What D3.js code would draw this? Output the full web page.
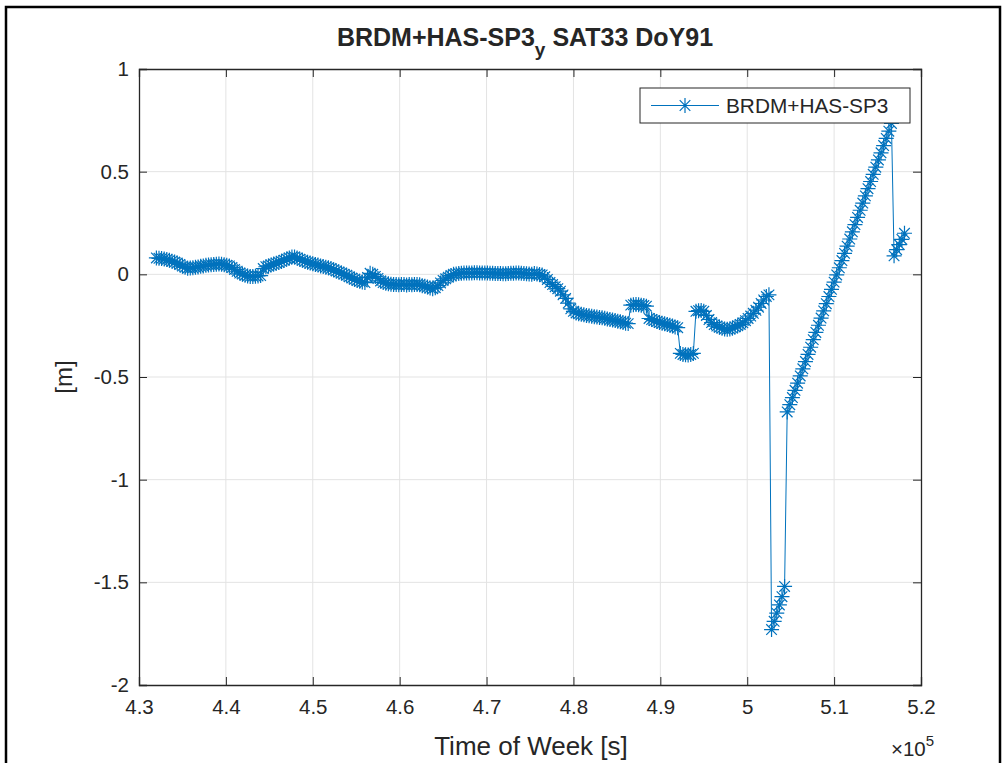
<!DOCTYPE html>
<html lang="en">
<head>
<meta charset="UTF-8">
<title>BRDM+HAS-SP3 SAT33 DoY91</title>
<script src="https://d3js.org/d3.v7.min.js"></script>
<style>
  body { margin: 0; background: #fff; }
  text { font-family: "Liberation Sans", Arial, Helvetica, sans-serif; fill: #262626; }
</style>
</head>
<body>
<div id="chart"></div>
<script>
// time of week [s], one epoch every 300 s
const tow = [
  432000, 432300, 432600, 432900, 433200, 433500, 433800, 434100, 434400, 434700,
  435000, 435300, 435600, 435900, 436200, 436500, 436800, 437100, 437400, 437700,
  438000, 438300, 438600, 438900, 439200, 439500, 439800, 440100, 440400, 440700,
  441000, 441300, 441600, 441900, 442200, 442500, 442800, 443100, 443400, 443700,
  444000, 444300, 444600, 444900, 445200, 445500, 445800, 446100, 446400, 446700,
  447000, 447300, 447600, 447900, 448200, 448500, 448800, 449100, 449400, 449700,
  450000, 450300, 450600, 450900, 451200, 451500, 451800, 452100, 452400, 452700,
  453000, 453300, 453600, 453900, 454200, 454500, 454800, 455100, 455400, 455700,
  456000, 456300, 456600, 456900, 457200, 457500, 457800, 458100, 458400, 458700,
  459000, 459300, 459600, 459900, 460200, 460500, 460800, 461100, 461400, 461700,
  462000, 462300, 462600, 462900, 463200, 463500, 463800, 464100, 464400, 464700,
  465000, 465300, 465600, 465900, 466200, 466500, 466800, 467100, 467400, 467700,
  468000, 468300, 468600, 468900, 469200, 469500, 469800, 470100, 470400, 470700,
  471000, 471300, 471600, 471900, 472200, 472500, 472800, 473100, 473400, 473700,
  474000, 474300, 474600, 474900, 475200, 475500, 475800, 476100, 476400, 476700,
  477000, 477300, 477600, 477900, 478200, 478500, 478800, 479100, 479400, 479700,
  480000, 480300, 480600, 480900, 481200, 481500, 481800, 482100, 482400, 482700,
  483000, 483300, 483600, 483900, 484200, 484500, 484800, 485100, 485400, 485700,
  486000, 486300, 486600, 486900, 487200, 487500, 487800, 488100, 488400, 488700,
  489000, 489300, 489600, 489900, 490200, 490500, 490800, 491100, 491400, 491700,
  492000, 492300, 492600, 492900, 493200, 493500, 493800, 494100, 494400, 494700,
  495000, 495300, 495600, 495900, 496200, 496500, 496800, 497100, 497400, 497700,
  498000, 498300, 498600, 498900, 499200, 499500, 499800, 500100, 500400, 500700,
  501000, 501300, 501600, 501900, 502200, 502500, 502800, 503100, 503400, 503700,
  504000, 504300, 504600, 504900, 505200, 505500, 505800, 506100, 506400, 506700,
  507000, 507300, 507600, 507900, 508200, 508500, 508800, 509100, 509400, 509700,
  510000, 510300, 510600, 510900, 511200, 511500, 511800, 512100, 512400, 512700,
  513000, 513300, 513600, 513900, 514200, 514500, 514800, 515100, 515400, 515700,
  516000, 516300, 516600, 516900, 517200, 517500, 517800, 518100
];

// BRDM+HAS minus SP3, y component [m]
const dy = [
  0.080, 0.078, 0.077, 0.075, 0.072, 0.068, 0.064, 0.060, 0.055, 0.048,
  0.040, 0.034, 0.030, 0.031, 0.032, 0.034, 0.036, 0.039, 0.041, 0.044,
  0.046, 0.047, 0.048, 0.049, 0.050, 0.049, 0.047, 0.044, 0.041, 0.033,
  0.024, 0.015, 0.006, 0.001, -0.004, -0.008, -0.010, -0.010, -0.009, -0.008,
  -0.006, 0.028, 0.037, 0.041, 0.045, 0.050, 0.054, 0.058, 0.063, 0.069,
  0.075, 0.080, 0.084, 0.085, 0.080, 0.074, 0.068, 0.063, 0.059, 0.055,
  0.052, 0.048, 0.045, 0.041, 0.038, 0.035, 0.032, 0.028, 0.022, 0.016,
  0.011, 0.006, 0.001, -0.004, -0.012, -0.018, -0.024, -0.030, -0.034, -0.037,
  -0.040, -0.015, 0.005, 0.000, -0.010, -0.020, -0.032, -0.040, -0.043, -0.046,
  -0.048, -0.050, -0.050, -0.051, -0.049, -0.050, -0.052, -0.050, -0.051, -0.049,
  -0.050, -0.051, -0.055, -0.058, -0.062, -0.066, -0.070, -0.065, -0.055, -0.042,
  -0.030, -0.022, -0.014, -0.006, 0.000, 0.002, 0.004, 0.005, 0.006, 0.006,
  0.007, 0.007, 0.008, 0.008, 0.007, 0.007, 0.006, 0.006, 0.005, 0.005,
  0.004, 0.004, 0.004, 0.003, 0.003, 0.004, 0.005, 0.005, 0.006, 0.006,
  0.005, 0.004, 0.003, 0.002, 0.001, 0.004, 0.002, -0.001, -0.003, -0.012,
  -0.025, -0.040, -0.050, -0.060, -0.070, -0.082, -0.100, -0.117, -0.140, -0.168,
  -0.180, -0.188, -0.192, -0.195, -0.197, -0.200, -0.202, -0.204, -0.206, -0.208,
  -0.210, -0.212, -0.214, -0.217, -0.220, -0.222, -0.225, -0.228, -0.231, -0.234,
  -0.238, -0.240, -0.150, -0.148, -0.147, -0.148, -0.150, -0.152, -0.155, -0.215,
  -0.220, -0.225, -0.230, -0.235, -0.238, -0.241, -0.244, -0.248, -0.252, -0.256,
  -0.260, -0.385, -0.390, -0.392, -0.393, -0.390, -0.385, -0.180, -0.177, -0.176,
  -0.180, -0.200, -0.220, -0.235, -0.245, -0.252, -0.258, -0.262, -0.266, -0.268,
  -0.266, -0.262, -0.256, -0.250, -0.244, -0.236, -0.226, -0.215, -0.203, -0.190,
  -0.175, -0.160, -0.142, -0.125, -0.108, -0.100, -1.730, -1.690, -1.650, -1.610,
  -1.570, -1.520, -0.670, -0.635, -0.600, -0.565, -0.530, -0.495, -0.460, -0.425,
  -0.390, -0.355, -0.318, -0.283, -0.248, -0.213, -0.178, -0.143, -0.108, -0.073,
  -0.038, -0.003, 0.032, 0.067, 0.102, 0.137, 0.172, 0.207, 0.242, 0.277,
  0.312, 0.347, 0.382, 0.417, 0.452, 0.487, 0.522, 0.557, 0.592, 0.627,
  0.662, 0.697, 0.735, 0.090, 0.120, 0.145, 0.170, 0.200
];

const xTicks = [430000, 440000, 450000, 460000, 470000, 480000, 490000, 500000, 510000, 520000];
const xTickLabels = ["4.3", "4.4", "4.5", "4.6", "4.7", "4.8", "4.9", "5", "5.1", "5.2"];
const yTicks = [-2, -1.5, -1, -0.5, 0, 0.5, 1];
const yTickLabels = ["-2", "-1.5", "-1", "-0.5", "0", "0.5", "1"];
const seriesName = "BRDM+HAS-SP3";

const W = 1006, H = 763;
const margin = {top: 69, right: 85, bottom: 78, left: 139};
const width = W - margin.left - margin.right,
      height = H - margin.top - margin.bottom;
const blue = "#0072BD", axisCol = "#262626", gridCol = "#e3e3e3";

const svg = d3.select("#chart").append("svg")
    .attr("width", W)
    .attr("height", H);

// outer figure frame
svg.append("rect")
    .attr("x", 6).attr("y", 7)
    .attr("width", 994).attr("height", 770)
    .attr("fill", "none").attr("stroke", "#000").attr("stroke-width", 2.5);

const g = svg.append("g").attr("transform", `translate(${margin.left},${margin.top})`);

const x = d3.scaleLinear().domain([430000, 520000]).range([0, width]);
const y = d3.scaleLinear().domain([-2, 1]).range([height, 0]);

// grid
g.append("g").selectAll("line").data(xTicks.slice(1, -1)).join("line")
    .attr("x1", d => x(d)).attr("x2", d => x(d))
    .attr("y1", 0).attr("y2", height)
    .attr("stroke", gridCol).attr("stroke-width", 1);
g.append("g").selectAll("line").data(yTicks.slice(1, -1)).join("line")
    .attr("x1", 0).attr("x2", width)
    .attr("y1", d => y(d)).attr("y2", d => y(d))
    .attr("stroke", gridCol).attr("stroke-width", 1);

// axes, MATLAB style: ticks pointing in, box on
const tickLen = 8;
const xAxis = g.append("g")
    .attr("transform", `translate(0,${height})`)
    .call(d3.axisBottom(x).tickValues(xTicks).tickSize(-tickLen).tickPadding(14)
      .tickFormat((d, i) => xTickLabels[i]));
const xTop = g.append("g")
    .call(d3.axisTop(x).tickValues(xTicks).tickSize(-tickLen).tickFormat(""));
const yAxis = g.append("g")
    .call(d3.axisLeft(y).tickValues(yTicks).tickSize(-tickLen).tickPadding(10)
      .tickFormat((d, i) => yTickLabels[i]));
const yRight = g.append("g")
    .attr("transform", `translate(${width},0)`)
    .call(d3.axisRight(y).tickValues(yTicks).tickSize(-tickLen).tickFormat(""));

[xAxis, xTop, yAxis, yRight].forEach(a => {
  a.select(".domain").attr("stroke", axisCol).attr("stroke-width", 1.3);
  a.selectAll(".tick line").attr("stroke", axisCol).attr("stroke-width", 1);
  a.selectAll("text").attr("font-size", 20.5).attr("fill", axisCol)
    .style("font-family", "'Liberation Sans', Arial, sans-serif");
});

// data line + asterisk markers
const data = tow.map((t, i) => ({t: t, v: dy[i]}));
const line = d3.line().x(d => x(d.t)).y(d => y(d.v));
g.append("path")
    .datum(data)
    .attr("fill", "none")
    .attr("stroke", blue)
    .attr("stroke-width", 1)
    .attr("d", line);

const r = 7.5, a = r * 0.7071;
const star = `M${-r},0L${r},0M0,${-r}L0,${r}M${-a},${-a}L${a},${a}M${-a},${a}L${a},${-a}`;
g.append("g").selectAll("path").data(data).join("path")
    .attr("transform", d => `translate(${x(d.t)},${y(d.v)})`)
    .attr("d", star)
    .attr("fill", "none")
    .attr("stroke", blue)
    .attr("stroke-width", 1.2);

// legend
const leg = g.append("g").attr("transform", `translate(${501},${19})`);
leg.append("rect")
    .attr("width", 270).attr("height", 35)
    .attr("fill", "#fff").attr("stroke", axisCol).attr("stroke-width", 1);
leg.append("line")
    .attr("x1", 11).attr("x2", 79).attr("y1", 17.5).attr("y2", 17.5)
    .attr("stroke", blue).attr("stroke-width", 1);
leg.append("path")
    .attr("transform", "translate(45,17.5)")
    .attr("d", star).attr("fill", "none").attr("stroke", blue).attr("stroke-width", 1.2);
leg.append("text")
    .attr("x", 86).attr("y", 25)
    .attr("font-size", 20.8)
    .text(seriesName);

// title with subscript y
const title = svg.append("text")
    .attr("x", 525).attr("y", 46)
    .attr("text-anchor", "middle")
    .attr("font-size", 25).attr("font-weight", "bold")
    .attr("fill", "#000");
title.append("tspan").text("BRDM+HAS-SP3");
title.append("tspan").attr("dy", 10).attr("font-size", 19).text("y");
title.append("tspan").attr("dy", -10).text(" SAT33 DoY91");

// axis labels
svg.append("text")
    .attr("x", 531).attr("y", 755)
    .attr("text-anchor", "middle")
    .attr("font-size", 26)
    .text("Time of Week [s]");
const mult = svg.append("text")
    .attr("x", 891).attr("y", 756)
    .attr("font-size", 20.5);
mult.append("tspan").text("\u00d710");
mult.append("tspan").attr("dy", -10).attr("font-size", 15).text("5");

svg.append("text")
    .attr("transform", `translate(72,${margin.top + height / 2}) rotate(-90)`)
    .attr("text-anchor", "middle")
    .attr("font-size", 24)
    .text("[m]");
</script>
</body>
</html>
